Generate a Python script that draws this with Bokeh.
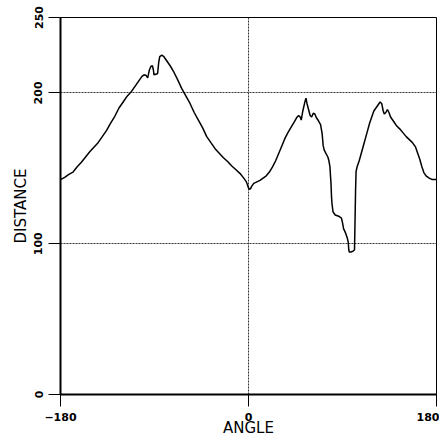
from bokeh.plotting import figure
from bokeh.models import Range1d, FixedTicker
from bokeh.embed import file_html
from bokeh.resources import INLINE

angle = [-180, -176, -172, -168, -164, -160, -156, -152, -148, -144, -140, -136,
         -132, -128, -124, -120, -116, -112, -108, -104, -102, -100, -98, -96.5,
         -95, -93.5, -92, -91, -90.5, -88, -87, -86, -85, -83, -81, -78, -75, -72,
         -68, -64, -60, -56, -52, -48, -44, -40, -36, -32, -28, -24, -20, -16, -12,
         -8, -4, -2, 0, 1, 2, 3, 5, 8, 11, 14, 17, 20, 23, 26, 29, 32, 35, 38, 41,
         44, 46, 48, 49.5, 50.5, 52, 54, 55, 56, 57.5, 59, 60.5, 62, 63.5, 65, 67,
         69, 70.5, 71.5, 72.5, 74, 76, 77, 78, 78.5, 79, 79.5, 80, 81, 83, 85, 87,
         89, 90, 91, 93, 94.5, 95.5, 96, 96.5, 98, 100, 101.5, 102, 102.5, 103, 104,
         106, 108, 110, 112, 114, 116, 118, 120, 122, 124, 126, 127.5, 129, 130,
         131.5, 133, 134.5, 136, 139, 142, 145, 148, 151, 154, 157, 160, 162, 164,
         166, 168, 170, 173, 176, 180]
distance = [142.5, 144, 146, 147.5, 151, 154, 157.5, 161, 164, 167, 171, 175,
            180, 184.5, 190, 194, 198, 201, 205, 209, 211, 212, 211.5, 210,
            215, 217.5, 218, 215, 212, 212.5, 213, 220, 224, 225, 224, 221, 218, 214.5,
            209, 203, 198, 193, 187, 182, 177, 171, 167, 163, 160, 157, 154.5, 151.5, 149,
            146.5, 143, 141, 137, 136, 136.5, 138, 140, 141, 142, 143.5, 145, 147.5, 151, 155, 160, 165, 170, 174, 177.5,
            181, 183.5, 185, 184, 182, 188, 194, 196.5, 193, 189, 185, 184, 186.5, 186, 183.5, 181.5,
            179, 173, 165, 162, 160, 157.5, 155, 151, 145, 140, 131, 126, 121, 119, 118.5, 118,
            117, 114, 110, 107, 104, 101, 96, 94.5, 94.5, 95, 96, 115, 135, 148, 151,
            155, 160, 165, 170, 175, 180, 184, 188, 190, 192, 194, 193, 188, 186,
            187, 189, 187, 184, 181, 178, 176, 173.5, 171, 169, 167, 164, 160, 156,
            151, 147, 145, 143.5, 142.5, 142.5]

x_ticks = [-180, 0, 180]
y_ticks = [0, 100, 200, 250]
x_grid = [0]
y_grid = [100, 200]
x_title = "ANGLE"
y_title = "DISTANCE"

p = figure(width=439, height=439, output_backend="svg", toolbar_location=None,
           x_range=Range1d(-180, 180), y_range=Range1d(0, 250),
           min_border_left=60, min_border_right=3, min_border_top=17, min_border_bottom=45)

p.line(angle, distance, line_color="black", line_width=1.5)

p.xaxis.ticker = FixedTicker(ticks=x_ticks)
p.yaxis.ticker = FixedTicker(ticks=y_ticks)
p.xgrid.ticker = FixedTicker(ticks=x_grid)
p.ygrid.ticker = FixedTicker(ticks=y_grid)
for g in (p.xgrid, p.ygrid):
    g.grid_line_color = "#333333"
    g.grid_line_dash = "2 1"
    g.grid_line_width = 1

for ax in (p.xaxis, p.yaxis):
    ax.axis_line_color = "black"
    ax.axis_line_width = 2
    ax.major_tick_out = 12
    ax.major_tick_in = 0
    ax.major_tick_line_color = "black"
    ax.minor_tick_line_color = None
    ax.major_label_text_font = "DejaVu Sans"
    ax.major_label_text_font_style = "bold"
    ax.major_label_text_font_size = "11px"
    ax.major_label_text_color = "black"
    ax.axis_label_text_font = "DejaVu Sans"
    ax.axis_label_text_font_style = "normal"
    ax.axis_label_text_font_size = "15px"
    ax.axis_label_text_color = "black"

p.xaxis.axis_label = x_title
p.yaxis.axis_label = y_title
p.yaxis.major_label_orientation = "parallel"
p.xaxis.major_label_standoff = 6
p.yaxis.major_label_standoff = 6
p.yaxis.axis_label_standoff = 2
p.xaxis.axis_label_standoff = -5

p.outline_line_color = "black"
p.outline_line_width = 1
p.background_fill_color = "white"
p.border_fill_color = "white"

open("out.html", "w").write(file_html(p, INLINE))
